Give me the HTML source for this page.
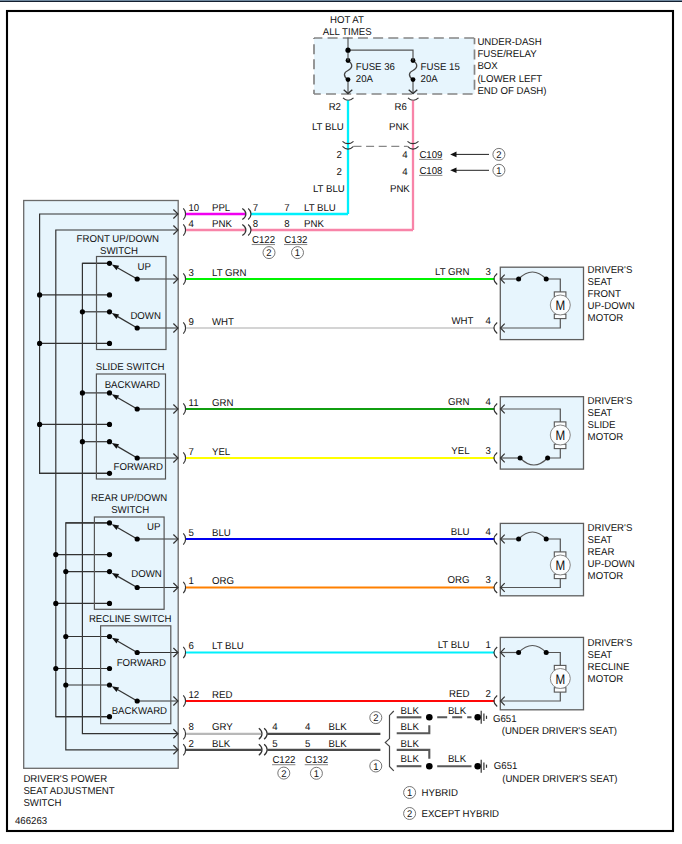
<!DOCTYPE html>
<html><head><meta charset="utf-8"><style>
html,body{margin:0;padding:0;background:#fff;width:682px;height:844px;overflow:hidden}
svg{display:block}
text{font-family:"Liberation Sans",sans-serif;text-rendering:geometricPrecision}
</style></head><body>
<svg width="682" height="844" viewBox="0 0 682 844">
<rect x="0" y="0" width="682" height="1" fill="#6f889f"/>
<rect x="0" y="1" width="682" height="1" fill="#142030"/>
<rect x="7" y="11" width="666" height="820" fill="none" stroke="#000" stroke-width="2.1"/>
<rect x="314" y="38" width="160.5" height="56" fill="#e7f5fd"/>
<line x1="314" y1="38" x2="474.5" y2="38" stroke="#858585" stroke-width="1.7" stroke-dasharray="10 5.18" stroke-dashoffset="1.6"/>
<line x1="474.5" y1="38" x2="474.5" y2="94" stroke="#858585" stroke-width="1.7" stroke-dasharray="10 5.18" stroke-dashoffset="3.7"/>
<line x1="314" y1="94" x2="474.5" y2="94" stroke="#858585" stroke-width="1.7" stroke-dasharray="10 5.18" stroke-dashoffset="3.2"/>
<line x1="314" y1="38" x2="314" y2="94" stroke="#858585" stroke-width="1.7" stroke-dasharray="10 5.18" stroke-dashoffset="9"/>
<text x="347" y="22.7" text-anchor="middle" font-size="10.0" fill="#111" transform="matrix(0.965,0,0,1,12.145,0)" >HOT AT</text>
<text x="347.2" y="34.7" text-anchor="middle" font-size="10.0" fill="#111" transform="matrix(0.965,0,0,1,12.152,0)" >ALL TIMES</text>
<text x="477.4" y="44.7" text-anchor="start" font-size="10.0" fill="#111" transform="matrix(0.965,0,0,1,16.709,0)" >UNDER-DASH</text>
<text x="477.4" y="57.050000000000004" text-anchor="start" font-size="10.0" fill="#111" transform="matrix(0.965,0,0,1,16.709,0)" >FUSE/RELAY</text>
<text x="477.4" y="69.4" text-anchor="start" font-size="10.0" fill="#111" transform="matrix(0.965,0,0,1,16.709,0)" >BOX</text>
<text x="477.4" y="81.75" text-anchor="start" font-size="10.0" fill="#111" transform="matrix(0.965,0,0,1,16.709,0)" >(LOWER LEFT</text>
<text x="477.4" y="94.1" text-anchor="start" font-size="10.0" fill="#111" transform="matrix(0.965,0,0,1,16.709,0)" >END OF DASH)</text>
<path d="M348,60.5 C353.5,64 352.5,68.5 348,70.5 C343.5,72.5 343,76 348,79.8" stroke="#444" stroke-width="1.3" fill="none" />
<line x1="348" y1="79.6" x2="348" y2="93.4" stroke="#555" stroke-width="1.2" />
<polyline points="343.7,89.8 348,93.6 352.3,89.8" stroke="#333" stroke-width="1.3" fill="none" />
<circle cx="348" cy="60.5" r="2.4" fill="#000"/>
<circle cx="348" cy="79.6" r="2.4" fill="#000"/>
<path d="M343,97.9 Q348,103 353.5,97.9" stroke="#333" stroke-width="1.1" fill="none" />
<path d="M413,60.5 C418.5,64 417.5,68.5 413,70.5 C408.5,72.5 408,76 413,79.8" stroke="#444" stroke-width="1.3" fill="none" />
<line x1="413" y1="79.6" x2="413" y2="93.4" stroke="#555" stroke-width="1.2" />
<polyline points="408.7,89.8 413,93.6 417.3,89.8" stroke="#333" stroke-width="1.3" fill="none" />
<circle cx="413" cy="60.5" r="2.4" fill="#000"/>
<circle cx="413" cy="79.6" r="2.4" fill="#000"/>
<path d="M408,97.9 Q413,103 418.5,97.9" stroke="#333" stroke-width="1.1" fill="none" />
<line x1="348" y1="37.5" x2="348" y2="60.5" stroke="#555" stroke-width="1.2" />
<polyline points="348,50.2 413,50.2 413,60.5" stroke="#555" stroke-width="1.2" fill="none" />
<circle cx="348" cy="50.2" r="2.6" fill="#000"/>
<text x="355.8" y="69.6" text-anchor="start" font-size="10.0" fill="#111" transform="matrix(0.965,0,0,1,12.453,0)" >FUSE 36</text>
<text x="355.8" y="82.2" text-anchor="start" font-size="10.0" fill="#111" transform="matrix(0.965,0,0,1,12.453,0)" >20A</text>
<text x="420.6" y="69.6" text-anchor="start" font-size="10.0" fill="#111" transform="matrix(0.965,0,0,1,14.721,0)" >FUSE 15</text>
<text x="420.6" y="82.2" text-anchor="start" font-size="10.0" fill="#111" transform="matrix(0.965,0,0,1,14.721,0)" >20A</text>
<line x1="348" y1="100.5" x2="348" y2="214" stroke="#00f0fc" stroke-width="2.3" />
<line x1="413" y1="100.5" x2="413" y2="230" stroke="#f884a8" stroke-width="2.3" />
<text x="341" y="110.2" text-anchor="end" font-size="10.0" fill="#111" transform="matrix(0.965,0,0,1,11.935,0)" >R2</text>
<text x="406.8" y="110.2" text-anchor="end" font-size="10.0" fill="#111" transform="matrix(0.965,0,0,1,14.238,0)" >R6</text>
<text x="343.8" y="130.1" text-anchor="end" font-size="10.0" fill="#111" transform="matrix(0.965,0,0,1,12.033,0)" >LT BLU</text>
<text x="408.9" y="130.1" text-anchor="end" font-size="10.0" fill="#111" transform="matrix(0.965,0,0,1,14.312,0)" >PNK</text>
<path d="M342.5,141.3 Q348,146 353.5,141.3" stroke="#333" stroke-width="1.1" fill="none" />
<path d="M342.5,146.3 Q348,152 353.5,146.3" stroke="#333" stroke-width="1.1" fill="none" />
<path d="M407.5,141.3 Q413,146 418.5,141.3" stroke="#333" stroke-width="1.1" fill="none" />
<path d="M407.5,146.3 Q413,152 418.5,146.3" stroke="#333" stroke-width="1.1" fill="none" />
<line x1="353.5" y1="146.4" x2="407.5" y2="146.4" stroke="#888" stroke-width="1.2" stroke-dasharray="8 4.6"/>
<text x="341.9" y="157.7" text-anchor="end" font-size="10.0" fill="#111" transform="matrix(0.965,0,0,1,11.967,0)" >2</text>
<text x="341.9" y="174.6" text-anchor="end" font-size="10.0" fill="#111" transform="matrix(0.965,0,0,1,11.967,0)" >2</text>
<text x="407.6" y="157.7" text-anchor="end" font-size="10.0" fill="#111" transform="matrix(0.965,0,0,1,14.266,0)" >4</text>
<text x="407.6" y="174.6" text-anchor="end" font-size="10.0" fill="#111" transform="matrix(0.965,0,0,1,14.266,0)" >4</text>
<text x="344.8" y="192.2" text-anchor="end" font-size="10.0" fill="#111" transform="matrix(0.965,0,0,1,12.068,0)" >LT BLU</text>
<text x="409.8" y="192.2" text-anchor="end" font-size="10.0" fill="#111" transform="matrix(0.965,0,0,1,14.343,0)" >PNK</text>
<text x="419.4" y="157.9" text-anchor="start" font-size="10.0" fill="#111" transform="matrix(0.965,0,0,1,14.679,0)" >C109</text>
<line x1="419.09999999999997" y1="159.4" x2="442.4" y2="159.4" stroke="#8c8c8c" stroke-width="1.1"/>
<text x="419.4" y="173.9" text-anchor="start" font-size="10.0" fill="#111" transform="matrix(0.965,0,0,1,14.679,0)" >C108</text>
<line x1="419.09999999999997" y1="175.4" x2="442.4" y2="175.4" stroke="#8c8c8c" stroke-width="1.1"/>
<line x1="455" y1="154.4" x2="489" y2="154.4" stroke="#222" stroke-width="1.0" />
<polygon points="450.2,154.4 456.5,151.6 456.5,157.20000000000002" fill="#111"/>
<circle cx="498.9" cy="154.4" r="6.0" fill="none" stroke="#666" stroke-width="0.9"/>
<text x="498.9" y="158.0" text-anchor="middle" font-size="9.8" fill="#111" transform="matrix(0.965,0,0,1,17.462,0)" >2</text>
<line x1="455" y1="170.3" x2="489" y2="170.3" stroke="#222" stroke-width="1.0" />
<polygon points="450.2,170.3 456.5,167.5 456.5,173.10000000000002" fill="#111"/>
<circle cx="498.9" cy="170.3" r="6.0" fill="none" stroke="#666" stroke-width="0.9"/>
<text x="498.9" y="173.9" text-anchor="middle" font-size="9.8" fill="#111" transform="matrix(0.965,0,0,1,17.462,0)" >1</text>
<rect x="23.7" y="200.5" width="154.5" height="567.8" stroke="#6a6a6a" stroke-width="1.3" fill="#e7f5fd" />
<polyline points="173.4,209.5 178,214.0 173.4,218.5" stroke="#333" stroke-width="1.2" fill="none" />
<path d="M183.3,208.4 C186.37,211.48 186.37,216.52 183.3,219.6" stroke="#333" stroke-width="1.2" fill="none" />
<text x="188.5" y="210.7" text-anchor="start" font-size="10.0" fill="#111" transform="matrix(0.965,0,0,1,6.598,0)" >10</text>
<text x="212" y="210.7" text-anchor="start" font-size="10.0" fill="#111" transform="matrix(0.965,0,0,1,7.420,0)" >PPL</text>
<polyline points="173.4,225.5 178,230.0 173.4,234.5" stroke="#333" stroke-width="1.2" fill="none" />
<path d="M183.3,224.4 C186.37,227.48 186.37,232.52 183.3,235.6" stroke="#333" stroke-width="1.2" fill="none" />
<text x="188.5" y="226.7" text-anchor="start" font-size="10.0" fill="#111" transform="matrix(0.965,0,0,1,6.598,0)" >4</text>
<text x="212" y="226.7" text-anchor="start" font-size="10.0" fill="#111" transform="matrix(0.965,0,0,1,7.420,0)" >PNK</text>
<polyline points="173.4,274.5 178,279.0 173.4,283.5" stroke="#333" stroke-width="1.2" fill="none" />
<path d="M183.3,273.4 C186.37,276.48 186.37,281.52 183.3,284.6" stroke="#333" stroke-width="1.2" fill="none" />
<text x="188.5" y="275.7" text-anchor="start" font-size="10.0" fill="#111" transform="matrix(0.965,0,0,1,6.598,0)" >3</text>
<text x="212" y="275.7" text-anchor="start" font-size="10.0" fill="#111" transform="matrix(0.965,0,0,1,7.420,0)" >LT GRN</text>
<polyline points="173.4,323.5 178,328.0 173.4,332.5" stroke="#333" stroke-width="1.2" fill="none" />
<path d="M183.3,322.4 C186.37,325.48 186.37,330.52 183.3,333.6" stroke="#333" stroke-width="1.2" fill="none" />
<text x="188.5" y="324.7" text-anchor="start" font-size="10.0" fill="#111" transform="matrix(0.965,0,0,1,6.598,0)" >9</text>
<text x="212" y="324.7" text-anchor="start" font-size="10.0" fill="#111" transform="matrix(0.965,0,0,1,7.420,0)" >WHT</text>
<polyline points="173.4,404.5 178,409.0 173.4,413.5" stroke="#333" stroke-width="1.2" fill="none" />
<path d="M183.3,403.4 C186.37,406.48 186.37,411.52 183.3,414.6" stroke="#333" stroke-width="1.2" fill="none" />
<text x="188.5" y="405.7" text-anchor="start" font-size="10.0" fill="#111" transform="matrix(0.965,0,0,1,6.598,0)" >11</text>
<text x="212" y="405.7" text-anchor="start" font-size="10.0" fill="#111" transform="matrix(0.965,0,0,1,7.420,0)" >GRN</text>
<polyline points="173.4,453.5 178,458.0 173.4,462.5" stroke="#333" stroke-width="1.2" fill="none" />
<path d="M183.3,452.4 C186.37,455.48 186.37,460.52 183.3,463.6" stroke="#333" stroke-width="1.2" fill="none" />
<text x="188.5" y="454.7" text-anchor="start" font-size="10.0" fill="#111" transform="matrix(0.965,0,0,1,6.598,0)" >7</text>
<text x="212" y="454.7" text-anchor="start" font-size="10.0" fill="#111" transform="matrix(0.965,0,0,1,7.420,0)" >YEL</text>
<polyline points="173.4,534.5 178,539.0 173.4,543.5" stroke="#333" stroke-width="1.2" fill="none" />
<path d="M183.3,533.4 C186.37,536.48 186.37,541.52 183.3,544.6" stroke="#333" stroke-width="1.2" fill="none" />
<text x="188.5" y="535.7" text-anchor="start" font-size="10.0" fill="#111" transform="matrix(0.965,0,0,1,6.598,0)" >5</text>
<text x="212" y="535.7" text-anchor="start" font-size="10.0" fill="#111" transform="matrix(0.965,0,0,1,7.420,0)" >BLU</text>
<polyline points="173.4,583.0 178,587.5 173.4,592.0" stroke="#333" stroke-width="1.2" fill="none" />
<path d="M183.3,581.9 C186.37,584.98 186.37,590.02 183.3,593.1" stroke="#333" stroke-width="1.2" fill="none" />
<text x="188.5" y="584.2" text-anchor="start" font-size="10.0" fill="#111" transform="matrix(0.965,0,0,1,6.598,0)" >1</text>
<text x="212" y="584.2" text-anchor="start" font-size="10.0" fill="#111" transform="matrix(0.965,0,0,1,7.420,0)" >ORG</text>
<polyline points="173.4,648.0 178,652.5 173.4,657.0" stroke="#333" stroke-width="1.2" fill="none" />
<path d="M183.3,646.9 C186.37,649.98 186.37,655.02 183.3,658.1" stroke="#333" stroke-width="1.2" fill="none" />
<text x="188.5" y="649.2" text-anchor="start" font-size="10.0" fill="#111" transform="matrix(0.965,0,0,1,6.598,0)" >6</text>
<text x="212" y="649.2" text-anchor="start" font-size="10.0" fill="#111" transform="matrix(0.965,0,0,1,7.420,0)" >LT BLU</text>
<polyline points="173.4,696.5 178,701.0 173.4,705.5" stroke="#333" stroke-width="1.2" fill="none" />
<path d="M183.3,695.4 C186.37,698.48 186.37,703.52 183.3,706.6" stroke="#333" stroke-width="1.2" fill="none" />
<text x="188.5" y="697.7" text-anchor="start" font-size="10.0" fill="#111" transform="matrix(0.965,0,0,1,6.598,0)" >12</text>
<text x="212" y="697.7" text-anchor="start" font-size="10.0" fill="#111" transform="matrix(0.965,0,0,1,7.420,0)" >RED</text>
<polyline points="173.4,729.2 178,733.7 173.4,738.2" stroke="#333" stroke-width="1.2" fill="none" />
<path d="M183.3,728.1 C186.37,731.18 186.37,736.22 183.3,739.3000000000001" stroke="#333" stroke-width="1.2" fill="none" />
<text x="188.5" y="730.4000000000001" text-anchor="start" font-size="10.0" fill="#111" transform="matrix(0.965,0,0,1,6.598,0)" >8</text>
<text x="212" y="730.4000000000001" text-anchor="start" font-size="10.0" fill="#111" transform="matrix(0.965,0,0,1,7.420,0)" >GRY</text>
<polyline points="173.4,745.3 178,749.8 173.4,754.3" stroke="#333" stroke-width="1.2" fill="none" />
<path d="M183.3,744.1999999999999 C186.37,747.28 186.37,752.32 183.3,755.4" stroke="#333" stroke-width="1.2" fill="none" />
<text x="188.5" y="746.5" text-anchor="start" font-size="10.0" fill="#111" transform="matrix(0.965,0,0,1,6.598,0)" >2</text>
<text x="212" y="746.5" text-anchor="start" font-size="10.0" fill="#111" transform="matrix(0.965,0,0,1,7.420,0)" >BLK</text>
<polyline points="178,214 39.6,214 39.6,473.3 109.5,473.3" stroke="#333" stroke-width="1.2" fill="none" />
<polyline points="178,230 55.8,230 55.8,716.7 109.5,716.7" stroke="#333" stroke-width="1.2" fill="none" />
<polyline points="109.5,263.3 82.4,263.3 82.4,733.7 178,733.7" stroke="#333" stroke-width="1.2" fill="none" />
<polyline points="109.5,522.9 65.8,522.9 65.8,749.8 178,749.8" stroke="#333" stroke-width="1.2" fill="none" />
<line x1="82.4" y1="263.3" x2="109.5" y2="263.3" stroke="#333" stroke-width="1.2" />
<circle cx="109.5" cy="263.3" r="2.6" fill="#000"/>
<line x1="39.6" y1="294.9" x2="109.5" y2="294.9" stroke="#333" stroke-width="1.2" />
<circle cx="39.6" cy="294.9" r="2.6" fill="#000"/>
<circle cx="109.5" cy="294.9" r="2.6" fill="#000"/>
<line x1="82.4" y1="311.8" x2="109.5" y2="311.8" stroke="#333" stroke-width="1.2" />
<circle cx="82.4" cy="311.8" r="2.6" fill="#000"/>
<circle cx="109.5" cy="311.8" r="2.6" fill="#000"/>
<line x1="39.6" y1="343.4" x2="109.5" y2="343.4" stroke="#333" stroke-width="1.2" />
<circle cx="39.6" cy="343.4" r="2.6" fill="#000"/>
<circle cx="109.5" cy="343.4" r="2.6" fill="#000"/>
<line x1="137.2" y1="279.0" x2="178" y2="279.0" stroke="#333" stroke-width="1.2" />
<line x1="137.2" y1="279.0" x2="117.85178186099851" y2="268.0336814158006" stroke="#333" stroke-width="1.3" />
<polygon points="111.76,264.58 119.13,265.77 116.57,270.30" fill="#111"/>
<circle cx="137.2" cy="279.0" r="2.6" fill="#000"/>
<line x1="137.2" y1="328.0" x2="178" y2="328.0" stroke="#333" stroke-width="1.2" />
<line x1="137.2" y1="328.0" x2="117.78684697641646" y2="316.64645924252517" stroke="#333" stroke-width="1.3" />
<polygon points="111.74,313.11 119.10,314.40 116.47,318.89" fill="#111"/>
<circle cx="137.2" cy="328.0" r="2.6" fill="#000"/>
<line x1="82.4" y1="392.9" x2="109.5" y2="392.9" stroke="#333" stroke-width="1.2" />
<circle cx="82.4" cy="392.9" r="2.6" fill="#000"/>
<circle cx="109.5" cy="392.9" r="2.6" fill="#000"/>
<line x1="39.6" y1="424.4" x2="109.5" y2="424.4" stroke="#333" stroke-width="1.2" />
<circle cx="39.6" cy="424.4" r="2.6" fill="#000"/>
<circle cx="109.5" cy="424.4" r="2.6" fill="#000"/>
<line x1="82.4" y1="441.7" x2="109.5" y2="441.7" stroke="#333" stroke-width="1.2" />
<circle cx="82.4" cy="441.7" r="2.6" fill="#000"/>
<circle cx="109.5" cy="441.7" r="2.6" fill="#000"/>
<line x1="39.6" y1="473.3" x2="109.5" y2="473.3" stroke="#333" stroke-width="1.2" />
<circle cx="109.5" cy="473.3" r="2.6" fill="#000"/>
<line x1="137.2" y1="409.0" x2="178" y2="409.0" stroke="#333" stroke-width="1.2" />
<line x1="137.2" y1="409.0" x2="117.79987449361973" y2="397.72411477788" stroke="#333" stroke-width="1.3" />
<polygon points="111.75,394.21 119.11,395.48 116.49,399.97" fill="#111"/>
<circle cx="137.2" cy="409.0" r="2.6" fill="#000"/>
<line x1="137.2" y1="458.0" x2="178" y2="458.0" stroke="#333" stroke-width="1.2" />
<line x1="137.2" y1="458.0" x2="117.77380051381465" y2="446.5686984972989" stroke="#333" stroke-width="1.3" />
<polygon points="111.74,443.02 119.09,444.33 116.46,448.81" fill="#111"/>
<circle cx="137.2" cy="458.0" r="2.6" fill="#000"/>
<line x1="65.8" y1="522.9" x2="109.5" y2="522.9" stroke="#333" stroke-width="1.2" />
<circle cx="109.5" cy="522.9" r="2.6" fill="#000"/>
<line x1="55.8" y1="554.6" x2="109.5" y2="554.6" stroke="#333" stroke-width="1.2" />
<circle cx="55.8" cy="554.6" r="2.6" fill="#000"/>
<circle cx="109.5" cy="554.6" r="2.6" fill="#000"/>
<line x1="65.8" y1="571.6" x2="109.5" y2="571.6" stroke="#333" stroke-width="1.2" />
<circle cx="65.8" cy="571.6" r="2.6" fill="#000"/>
<circle cx="109.5" cy="571.6" r="2.6" fill="#000"/>
<line x1="55.8" y1="603.4" x2="109.5" y2="603.4" stroke="#333" stroke-width="1.2" />
<circle cx="55.8" cy="603.4" r="2.6" fill="#000"/>
<circle cx="109.5" cy="603.4" r="2.6" fill="#000"/>
<line x1="137.2" y1="539.0" x2="178" y2="539.0" stroke="#333" stroke-width="1.2" />
<line x1="137.2" y1="539.0" x2="117.79987449361973" y2="527.72411477788" stroke="#333" stroke-width="1.3" />
<polygon points="111.75,524.21 119.11,525.48 116.49,529.97" fill="#111"/>
<circle cx="137.2" cy="539.0" r="2.6" fill="#000"/>
<line x1="137.2" y1="587.5" x2="178" y2="587.5" stroke="#333" stroke-width="1.2" />
<line x1="137.2" y1="587.5" x2="117.8258700533859" y2="576.3791095252287" stroke="#333" stroke-width="1.3" />
<polygon points="111.75,572.89 119.12,574.12 116.53,578.63" fill="#111"/>
<circle cx="137.2" cy="587.5" r="2.6" fill="#000"/>
<line x1="65.8" y1="636.5" x2="109.5" y2="636.5" stroke="#333" stroke-width="1.2" />
<circle cx="65.8" cy="636.5" r="2.6" fill="#000"/>
<circle cx="109.5" cy="636.5" r="2.6" fill="#000"/>
<line x1="55.8" y1="668.5" x2="109.5" y2="668.5" stroke="#333" stroke-width="1.2" />
<circle cx="55.8" cy="668.5" r="2.6" fill="#000"/>
<circle cx="109.5" cy="668.5" r="2.6" fill="#000"/>
<line x1="65.8" y1="685.0" x2="109.5" y2="685.0" stroke="#333" stroke-width="1.2" />
<circle cx="65.8" cy="685.0" r="2.6" fill="#000"/>
<circle cx="109.5" cy="685.0" r="2.6" fill="#000"/>
<line x1="55.8" y1="716.7" x2="109.5" y2="716.7" stroke="#333" stroke-width="1.2" />
<circle cx="109.5" cy="716.7" r="2.6" fill="#000"/>
<line x1="137.2" y1="652.5" x2="178" y2="652.5" stroke="#333" stroke-width="1.2" />
<line x1="137.2" y1="652.5" x2="117.81288240719779" y2="641.3016649283453" stroke="#333" stroke-width="1.3" />
<polygon points="111.75,637.80 119.11,639.05 116.51,643.55" fill="#111"/>
<circle cx="137.2" cy="652.5" r="2.6" fill="#000"/>
<line x1="137.2" y1="701.0" x2="178" y2="701.0" stroke="#333" stroke-width="1.2" />
<line x1="137.2" y1="701.0" x2="117.81288240719779" y2="689.8016649283453" stroke="#333" stroke-width="1.3" />
<polygon points="111.75,686.30 119.11,687.55 116.51,692.05" fill="#111"/>
<circle cx="137.2" cy="701.0" r="2.6" fill="#000"/>
<rect x="96.5" y="256.5" width="69.5" height="93" stroke="#555" stroke-width="1.2" fill="none" />
<rect x="96.4" y="374" width="69.1" height="105" stroke="#555" stroke-width="1.2" fill="none" />
<rect x="94.4" y="517" width="69.7" height="92.3" stroke="#555" stroke-width="1.2" fill="none" />
<rect x="100.6" y="625.8" width="70.2" height="97.9" stroke="#555" stroke-width="1.2" fill="none" />
<text x="76.6" y="241.9" text-anchor="start" font-size="10.0" fill="#111" transform="matrix(0.965,0,0,1,2.681,0)" >FRONT UP/DOWN</text>
<text x="100" y="253.7" text-anchor="start" font-size="10.0" fill="#111" transform="matrix(0.965,0,0,1,3.500,0)" >SWITCH</text>
<text x="137.5" y="269.8" text-anchor="start" font-size="10.0" fill="#111" transform="matrix(0.965,0,0,1,4.813,0)" >UP</text>
<text x="130.4" y="318.9" text-anchor="start" font-size="10.0" fill="#111" transform="matrix(0.965,0,0,1,4.564,0)" >DOWN</text>
<text x="95.8" y="369.8" text-anchor="start" font-size="10.0" fill="#111" transform="matrix(0.965,0,0,1,3.353,0)" >SLIDE SWITCH</text>
<text x="104.7" y="387.9" text-anchor="start" font-size="10.0" fill="#111" transform="matrix(0.965,0,0,1,3.665,0)" >BACKWARD</text>
<text x="113.6" y="470.1" text-anchor="start" font-size="10.0" fill="#111" transform="matrix(0.965,0,0,1,3.976,0)" >FORWARD</text>
<text x="91.1" y="500.8" text-anchor="start" font-size="10.0" fill="#111" transform="matrix(0.965,0,0,1,3.189,0)" >REAR UP/DOWN</text>
<text x="111.2" y="512.8" text-anchor="start" font-size="10.0" fill="#111" transform="matrix(0.965,0,0,1,3.892,0)" >SWITCH</text>
<text x="147" y="529.5" text-anchor="start" font-size="10.0" fill="#111" transform="matrix(0.965,0,0,1,5.145,0)" >UP</text>
<text x="131.2" y="577.4" text-anchor="start" font-size="10.0" fill="#111" transform="matrix(0.965,0,0,1,4.592,0)" >DOWN</text>
<text x="88.9" y="621.7" text-anchor="start" font-size="10.0" fill="#111" transform="matrix(0.965,0,0,1,3.112,0)" >RECLINE SWITCH</text>
<text x="116.7" y="666.2" text-anchor="start" font-size="10.0" fill="#111" transform="matrix(0.965,0,0,1,4.085,0)" >FORWARD</text>
<text x="111.7" y="713.6" text-anchor="start" font-size="10.0" fill="#111" transform="matrix(0.965,0,0,1,3.910,0)" >BACKWARD</text>
<text x="23.4" y="781.9" text-anchor="start" font-size="10.0" fill="#111" transform="matrix(0.965,0,0,1,0.819,0)" >DRIVER&#39;S POWER</text>
<text x="23.4" y="793.9" text-anchor="start" font-size="10.0" fill="#111" transform="matrix(0.965,0,0,1,0.819,0)" >SEAT ADJUSTMENT</text>
<text x="23.4" y="805.8" text-anchor="start" font-size="10.0" fill="#111" transform="matrix(0.965,0,0,1,0.819,0)" >SWITCH</text>
<text x="15" y="823.7" text-anchor="start" font-size="10.0" fill="#111" transform="matrix(0.965,0,0,1,0.525,0)" >466263</text>
<line x1="186" y1="214" x2="245.8" y2="214" stroke="#f000f0" stroke-width="2.4" />
<line x1="186" y1="230" x2="245.8" y2="230" stroke="#f884a8" stroke-width="2.4" />
<polyline points="250.8,214 348,214" stroke="#00f0fc" stroke-width="2.4" fill="none" />
<polyline points="250.8,230 413,230" stroke="#f884a8" stroke-width="2.4" fill="none" />
<path d="M242.3,208.5 C247.10,211.53 247.10,216.47 242.3,219.5" stroke="#333" stroke-width="1.2" fill="none" />
<path d="M248.2,208.5 C251.93,211.53 251.93,216.47 248.2,219.5" stroke="#333" stroke-width="1.2" fill="none" />
<path d="M242.3,224.5 C247.10,227.53 247.10,232.47 242.3,235.5" stroke="#333" stroke-width="1.2" fill="none" />
<path d="M248.2,224.5 C251.93,227.53 251.93,232.47 248.2,235.5" stroke="#333" stroke-width="1.2" fill="none" />
<text x="252.7" y="210.7" text-anchor="start" font-size="10.0" fill="#111" transform="matrix(0.965,0,0,1,8.845,0)" >7</text>
<text x="284.3" y="210.7" text-anchor="start" font-size="10.0" fill="#111" transform="matrix(0.965,0,0,1,9.951,0)" >7</text>
<text x="304" y="210.7" text-anchor="start" font-size="10.0" fill="#111" transform="matrix(0.965,0,0,1,10.640,0)" >LT BLU</text>
<text x="252.7" y="226.7" text-anchor="start" font-size="10.0" fill="#111" transform="matrix(0.965,0,0,1,8.845,0)" >8</text>
<text x="284.3" y="226.7" text-anchor="start" font-size="10.0" fill="#111" transform="matrix(0.965,0,0,1,9.951,0)" >8</text>
<text x="304" y="226.7" text-anchor="start" font-size="10.0" fill="#111" transform="matrix(0.965,0,0,1,10.640,0)" >PNK</text>
<text x="252" y="243.0" text-anchor="start" font-size="10.0" fill="#111" transform="matrix(0.965,0,0,1,8.820,0)" >C122</text>
<line x1="251.7" y1="244.5" x2="275" y2="244.5" stroke="#8c8c8c" stroke-width="1.1"/>
<text x="284.3" y="243.0" text-anchor="start" font-size="10.0" fill="#111" transform="matrix(0.965,0,0,1,9.951,0)" >C132</text>
<line x1="284.0" y1="244.5" x2="307.3" y2="244.5" stroke="#8c8c8c" stroke-width="1.1"/>
<circle cx="269" cy="252.6" r="6.0" fill="none" stroke="#666" stroke-width="0.9"/>
<text x="269" y="256.2" text-anchor="middle" font-size="9.8" fill="#111" transform="matrix(0.965,0,0,1,9.415,0)" >2</text>
<circle cx="297.5" cy="252.6" r="6.0" fill="none" stroke="#666" stroke-width="0.9"/>
<text x="297.5" y="256.2" text-anchor="middle" font-size="9.8" fill="#111" transform="matrix(0.965,0,0,1,10.413,0)" >1</text>
<line x1="186" y1="279.0" x2="494.6" y2="279.0" stroke="#00f400" stroke-width="2.1" />
<path d="M497.2,273.5 Q490.59999999999997,279.0 497.2,284.5" stroke="#333" stroke-width="1.2" fill="none" />
<line x1="186" y1="328.0" x2="494.6" y2="328.0" stroke="#d4d4d4" stroke-width="2.1" />
<path d="M497.2,322.5 Q490.59999999999997,328.0 497.2,333.5" stroke="#333" stroke-width="1.2" fill="none" />
<line x1="186" y1="409.0" x2="494.6" y2="409.0" stroke="#109e10" stroke-width="2.1" />
<path d="M497.2,403.5 Q490.59999999999997,409.0 497.2,414.5" stroke="#333" stroke-width="1.2" fill="none" />
<line x1="186" y1="458.0" x2="494.6" y2="458.0" stroke="#ffff00" stroke-width="2.1" />
<path d="M497.2,452.5 Q490.59999999999997,458.0 497.2,463.5" stroke="#333" stroke-width="1.2" fill="none" />
<line x1="186" y1="539.0" x2="494.6" y2="539.0" stroke="#0000f0" stroke-width="2.1" />
<path d="M497.2,533.5 Q490.59999999999997,539.0 497.2,544.5" stroke="#333" stroke-width="1.2" fill="none" />
<line x1="186" y1="587.5" x2="494.6" y2="587.5" stroke="#ff8000" stroke-width="2.1" />
<path d="M497.2,582.0 Q490.59999999999997,587.5 497.2,593.0" stroke="#333" stroke-width="1.2" fill="none" />
<line x1="186" y1="652.5" x2="494.6" y2="652.5" stroke="#00f0fc" stroke-width="2.1" />
<path d="M497.2,647.0 Q490.59999999999997,652.5 497.2,658.0" stroke="#333" stroke-width="1.2" fill="none" />
<line x1="186" y1="701.0" x2="494.6" y2="701.0" stroke="#ff0808" stroke-width="2.1" />
<path d="M497.2,695.5 Q490.59999999999997,701.0 497.2,706.5" stroke="#333" stroke-width="1.2" fill="none" />
<text x="469.5" y="274.8" text-anchor="end" font-size="10.0" fill="#111" transform="matrix(0.965,0,0,1,16.433,0)" >LT GRN</text>
<text x="490.8" y="274.8" text-anchor="end" font-size="10.0" fill="#111" transform="matrix(0.965,0,0,1,17.178,0)" >3</text>
<text x="473.4" y="323.8" text-anchor="end" font-size="10.0" fill="#111" transform="matrix(0.965,0,0,1,16.569,0)" >WHT</text>
<text x="490.8" y="323.8" text-anchor="end" font-size="10.0" fill="#111" transform="matrix(0.965,0,0,1,17.178,0)" >4</text>
<text x="469.5" y="404.8" text-anchor="end" font-size="10.0" fill="#111" transform="matrix(0.965,0,0,1,16.433,0)" >GRN</text>
<text x="490.8" y="404.8" text-anchor="end" font-size="10.0" fill="#111" transform="matrix(0.965,0,0,1,17.178,0)" >4</text>
<text x="469.5" y="453.8" text-anchor="end" font-size="10.0" fill="#111" transform="matrix(0.965,0,0,1,16.433,0)" >YEL</text>
<text x="490.8" y="453.8" text-anchor="end" font-size="10.0" fill="#111" transform="matrix(0.965,0,0,1,17.178,0)" >3</text>
<text x="469.5" y="534.8" text-anchor="end" font-size="10.0" fill="#111" transform="matrix(0.965,0,0,1,16.433,0)" >BLU</text>
<text x="490.8" y="534.8" text-anchor="end" font-size="10.0" fill="#111" transform="matrix(0.965,0,0,1,17.178,0)" >4</text>
<text x="469.5" y="583.3" text-anchor="end" font-size="10.0" fill="#111" transform="matrix(0.965,0,0,1,16.433,0)" >ORG</text>
<text x="490.8" y="583.3" text-anchor="end" font-size="10.0" fill="#111" transform="matrix(0.965,0,0,1,17.178,0)" >3</text>
<text x="469.5" y="648.3" text-anchor="end" font-size="10.0" fill="#111" transform="matrix(0.965,0,0,1,16.433,0)" >LT BLU</text>
<text x="490.8" y="648.3" text-anchor="end" font-size="10.0" fill="#111" transform="matrix(0.965,0,0,1,17.178,0)" >1</text>
<text x="469.5" y="696.8" text-anchor="end" font-size="10.0" fill="#111" transform="matrix(0.965,0,0,1,16.433,0)" >RED</text>
<text x="490.8" y="696.8" text-anchor="end" font-size="10.0" fill="#111" transform="matrix(0.965,0,0,1,17.178,0)" >2</text>
<rect x="500.3" y="267.2" width="83.2" height="72.4" stroke="#5e5e5e" stroke-width="1.3" fill="#e7f5fd" />
<line x1="500.5" y1="279.0" x2="518.6" y2="279.0" stroke="#555" stroke-width="1.2" />
<path d="M518.6,279.0 Q532.4,265.0 546.2,279.0" stroke="#555" stroke-width="1.1" fill="none" />
<polyline points="546.2,279.0 560.3,279.0 560.3,292.0" stroke="#555" stroke-width="1.2" fill="none" />
<polyline points="560.3,318.5 560.3,328.0 500.5,328.0" stroke="#555" stroke-width="1.2" fill="none" />
<circle cx="518.6" cy="279.0" r="2.5" fill="#000"/>
<circle cx="546.2" cy="279.0" r="2.5" fill="#000"/>
<rect x="554.3" y="291.9" width="11.6" height="4.6" stroke="#555" stroke-width="1.1" fill="#fbfdfe" />
<rect x="554.3" y="314.2" width="11.6" height="4.4" stroke="#555" stroke-width="1.1" fill="#fbfdfe" />
<circle cx="560.3" cy="305.0" r="10" fill="#fbfdfe" stroke="#888" stroke-width="1"/>
<text x="560.3" y="310.0" text-anchor="middle" font-size="13.7" fill="#111" transform="translate(560.3 0) scale(0.85 1) translate(-560.3 0)">M</text>
<polyline points="504.7,274.7 500.5,279.0 504.7,283.3" stroke="#333" stroke-width="1.2" fill="none" />
<polyline points="504.7,323.7 500.5,328.0 504.7,332.3" stroke="#333" stroke-width="1.2" fill="none" />
<text x="587.6" y="272.5" text-anchor="start" font-size="10.0" fill="#111" transform="matrix(0.965,0,0,1,20.566,0)" >DRIVER&#39;S</text>
<text x="587.6" y="284.65" text-anchor="start" font-size="10.0" fill="#111" transform="matrix(0.965,0,0,1,20.566,0)" >SEAT</text>
<text x="587.6" y="296.8" text-anchor="start" font-size="10.0" fill="#111" transform="matrix(0.965,0,0,1,20.566,0)" >FRONT</text>
<text x="587.6" y="308.95" text-anchor="start" font-size="10.0" fill="#111" transform="matrix(0.965,0,0,1,20.566,0)" >UP-DOWN</text>
<text x="587.6" y="321.1" text-anchor="start" font-size="10.0" fill="#111" transform="matrix(0.965,0,0,1,20.566,0)" >MOTOR</text>
<rect x="500.3" y="396.7" width="83.2" height="72.4" stroke="#5e5e5e" stroke-width="1.3" fill="#e7f5fd" />
<polyline points="500.5,409.0 560.3,409.0 560.3,422.0" stroke="#555" stroke-width="1.2" fill="none" />
<polyline points="560.3,448.5 560.3,458.0 547.6,458.0" stroke="#555" stroke-width="1.2" fill="none" />
<path d="M520.1,458.0 Q533.9,472.0 547.6,458.0" stroke="#555" stroke-width="1.1" fill="none" />
<line x1="520.1" y1="458.0" x2="500.5" y2="458.0" stroke="#555" stroke-width="1.2" />
<circle cx="520.1" cy="458.0" r="2.5" fill="#000"/>
<circle cx="547.6" cy="458.0" r="2.5" fill="#000"/>
<rect x="554.3" y="421.9" width="11.6" height="4.6" stroke="#555" stroke-width="1.1" fill="#fbfdfe" />
<rect x="554.3" y="444.2" width="11.6" height="4.4" stroke="#555" stroke-width="1.1" fill="#fbfdfe" />
<circle cx="560.3" cy="435.0" r="10" fill="#fbfdfe" stroke="#888" stroke-width="1"/>
<text x="560.3" y="440.0" text-anchor="middle" font-size="13.7" fill="#111" transform="translate(560.3 0) scale(0.85 1) translate(-560.3 0)">M</text>
<polyline points="504.7,404.7 500.5,409.0 504.7,413.3" stroke="#333" stroke-width="1.2" fill="none" />
<polyline points="504.7,453.7 500.5,458.0 504.7,462.3" stroke="#333" stroke-width="1.2" fill="none" />
<text x="587.6" y="403.5" text-anchor="start" font-size="10.0" fill="#111" transform="matrix(0.965,0,0,1,20.566,0)" >DRIVER&#39;S</text>
<text x="587.6" y="415.65" text-anchor="start" font-size="10.0" fill="#111" transform="matrix(0.965,0,0,1,20.566,0)" >SEAT</text>
<text x="587.6" y="427.8" text-anchor="start" font-size="10.0" fill="#111" transform="matrix(0.965,0,0,1,20.566,0)" >SLIDE</text>
<text x="587.6" y="439.95" text-anchor="start" font-size="10.0" fill="#111" transform="matrix(0.965,0,0,1,20.566,0)" >MOTOR</text>
<rect x="500.3" y="523.4" width="83.2" height="72.4" stroke="#5e5e5e" stroke-width="1.3" fill="#e7f5fd" />
<line x1="500.5" y1="539.0" x2="518.6" y2="539.0" stroke="#555" stroke-width="1.2" />
<path d="M518.6,539.0 Q532.4,525.0 546.2,539.0" stroke="#555" stroke-width="1.1" fill="none" />
<polyline points="546.2,539.0 560.3,539.0 560.3,552.0" stroke="#555" stroke-width="1.2" fill="none" />
<polyline points="560.3,578.5 560.3,587.5 500.5,587.5" stroke="#555" stroke-width="1.2" fill="none" />
<circle cx="518.6" cy="539.0" r="2.5" fill="#000"/>
<circle cx="546.2" cy="539.0" r="2.5" fill="#000"/>
<rect x="554.3" y="551.9" width="11.6" height="4.6" stroke="#555" stroke-width="1.1" fill="#fbfdfe" />
<rect x="554.3" y="574.2" width="11.6" height="4.4" stroke="#555" stroke-width="1.1" fill="#fbfdfe" />
<circle cx="560.3" cy="565.0" r="10" fill="#fbfdfe" stroke="#888" stroke-width="1"/>
<text x="560.3" y="570.0" text-anchor="middle" font-size="13.7" fill="#111" transform="translate(560.3 0) scale(0.85 1) translate(-560.3 0)">M</text>
<polyline points="504.7,534.7 500.5,539.0 504.7,543.3" stroke="#333" stroke-width="1.2" fill="none" />
<polyline points="504.7,583.2 500.5,587.5 504.7,591.8" stroke="#333" stroke-width="1.2" fill="none" />
<text x="587.6" y="530.6" text-anchor="start" font-size="10.0" fill="#111" transform="matrix(0.965,0,0,1,20.566,0)" >DRIVER&#39;S</text>
<text x="587.6" y="542.75" text-anchor="start" font-size="10.0" fill="#111" transform="matrix(0.965,0,0,1,20.566,0)" >SEAT</text>
<text x="587.6" y="554.9" text-anchor="start" font-size="10.0" fill="#111" transform="matrix(0.965,0,0,1,20.566,0)" >REAR</text>
<text x="587.6" y="567.0500000000001" text-anchor="start" font-size="10.0" fill="#111" transform="matrix(0.965,0,0,1,20.566,0)" >UP-DOWN</text>
<text x="587.6" y="579.2" text-anchor="start" font-size="10.0" fill="#111" transform="matrix(0.965,0,0,1,20.566,0)" >MOTOR</text>
<rect x="500.3" y="637.4" width="83.2" height="72.4" stroke="#5e5e5e" stroke-width="1.3" fill="#e7f5fd" />
<line x1="500.5" y1="652.5" x2="518.6" y2="652.5" stroke="#555" stroke-width="1.2" />
<path d="M518.6,652.5 Q532.4,638.5 546.2,652.5" stroke="#555" stroke-width="1.1" fill="none" />
<polyline points="546.2,652.5 560.3,652.5 560.3,665.5" stroke="#555" stroke-width="1.2" fill="none" />
<polyline points="560.3,692.0 560.3,701.0 500.5,701.0" stroke="#555" stroke-width="1.2" fill="none" />
<circle cx="518.6" cy="652.5" r="2.5" fill="#000"/>
<circle cx="546.2" cy="652.5" r="2.5" fill="#000"/>
<rect x="554.3" y="665.4" width="11.6" height="4.6" stroke="#555" stroke-width="1.1" fill="#fbfdfe" />
<rect x="554.3" y="687.7" width="11.6" height="4.4" stroke="#555" stroke-width="1.1" fill="#fbfdfe" />
<circle cx="560.3" cy="678.5" r="10" fill="#fbfdfe" stroke="#888" stroke-width="1"/>
<text x="560.3" y="683.5" text-anchor="middle" font-size="13.7" fill="#111" transform="translate(560.3 0) scale(0.85 1) translate(-560.3 0)">M</text>
<polyline points="504.7,648.2 500.5,652.5 504.7,656.8" stroke="#333" stroke-width="1.2" fill="none" />
<polyline points="504.7,696.7 500.5,701.0 504.7,705.3" stroke="#333" stroke-width="1.2" fill="none" />
<text x="587.6" y="645.6" text-anchor="start" font-size="10.0" fill="#111" transform="matrix(0.965,0,0,1,20.566,0)" >DRIVER&#39;S</text>
<text x="587.6" y="657.75" text-anchor="start" font-size="10.0" fill="#111" transform="matrix(0.965,0,0,1,20.566,0)" >SEAT</text>
<text x="587.6" y="669.9" text-anchor="start" font-size="10.0" fill="#111" transform="matrix(0.965,0,0,1,20.566,0)" >RECLINE</text>
<text x="587.6" y="682.0500000000001" text-anchor="start" font-size="10.0" fill="#111" transform="matrix(0.965,0,0,1,20.566,0)" >MOTOR</text>
<line x1="186" y1="733.8" x2="261.7" y2="733.8" stroke="#b8b8b8" stroke-width="2.2" />
<line x1="186" y1="749.9" x2="261.7" y2="749.9" stroke="#484848" stroke-width="2.3" />
<line x1="267.3" y1="733.8" x2="380.4" y2="733.8" stroke="#4a4a4a" stroke-width="2.3" />
<line x1="267.3" y1="749.9" x2="380.4" y2="749.9" stroke="#4a4a4a" stroke-width="2.3" />
<path d="M258.8,728.2 C263.07,731.23 263.07,736.18 258.8,739.2" stroke="#333" stroke-width="1.2" fill="none" />
<path d="M264.1,728.2 C268.10,731.23 268.10,736.18 264.1,739.2" stroke="#333" stroke-width="1.2" fill="none" />
<path d="M258.8,744.3 C263.07,747.32 263.07,752.27 258.8,755.3" stroke="#333" stroke-width="1.2" fill="none" />
<path d="M264.1,744.3 C268.10,747.32 268.10,752.27 264.1,755.3" stroke="#333" stroke-width="1.2" fill="none" />
<text x="272.3" y="729.7" text-anchor="start" font-size="10.0" fill="#111" transform="matrix(0.965,0,0,1,9.531,0)" >4</text>
<text x="305" y="729.7" text-anchor="start" font-size="10.0" fill="#111" transform="matrix(0.965,0,0,1,10.675,0)" >4</text>
<text x="328.5" y="729.7" text-anchor="start" font-size="10.0" fill="#111" transform="matrix(0.965,0,0,1,11.498,0)" >BLK</text>
<text x="272.3" y="746.8" text-anchor="start" font-size="10.0" fill="#111" transform="matrix(0.965,0,0,1,9.531,0)" >5</text>
<text x="305" y="746.8" text-anchor="start" font-size="10.0" fill="#111" transform="matrix(0.965,0,0,1,10.675,0)" >5</text>
<text x="328.5" y="746.8" text-anchor="start" font-size="10.0" fill="#111" transform="matrix(0.965,0,0,1,11.498,0)" >BLK</text>
<text x="272.4" y="763.2" text-anchor="start" font-size="10.0" fill="#111" transform="matrix(0.965,0,0,1,9.534,0)" >C122</text>
<line x1="272.09999999999997" y1="764.7" x2="295.4" y2="764.7" stroke="#8c8c8c" stroke-width="1.1"/>
<text x="305" y="763.2" text-anchor="start" font-size="10.0" fill="#111" transform="matrix(0.965,0,0,1,10.675,0)" >C132</text>
<line x1="304.7" y1="764.7" x2="328" y2="764.7" stroke="#8c8c8c" stroke-width="1.1"/>
<circle cx="283.8" cy="773.1" r="6.0" fill="none" stroke="#666" stroke-width="0.9"/>
<text x="283.8" y="776.7" text-anchor="middle" font-size="9.8" fill="#111" transform="matrix(0.965,0,0,1,9.933,0)" >2</text>
<circle cx="316.4" cy="773.3" r="6.0" fill="none" stroke="#666" stroke-width="0.9"/>
<text x="316.4" y="776.9" text-anchor="middle" font-size="9.8" fill="#111" transform="matrix(0.965,0,0,1,11.074,0)" >1</text>
<polyline points="393.8,711.0 389.5,715.4 389.5,738.6 385.3,742.6 389.5,746.3 389.5,766.4 393.8,770.8" stroke="#444" stroke-width="1.2" fill="none" />
<circle cx="375.8" cy="717.6" r="6.0" fill="none" stroke="#666" stroke-width="0.9"/>
<text x="375.8" y="721.2" text-anchor="middle" font-size="9.8" fill="#111" transform="matrix(0.965,0,0,1,13.153,0)" >2</text>
<circle cx="375.8" cy="766" r="6.0" fill="none" stroke="#666" stroke-width="0.9"/>
<text x="375.8" y="769.6" text-anchor="middle" font-size="9.8" fill="#111" transform="matrix(0.965,0,0,1,13.153,0)" >1</text>
<line x1="396.7" y1="717.3" x2="421.4" y2="717.3" stroke="#585858" stroke-width="2.1" />
<polyline points="396.7,733.2 429.3,733.2 429.3,725.2" stroke="#585858" stroke-width="2.1" fill="none" />
<polyline points="396.7,749.9 429.3,749.9 429.3,758.7" stroke="#585858" stroke-width="2.1" fill="none" />
<line x1="396.7" y1="766.2" x2="421.4" y2="766.2" stroke="#585858" stroke-width="2.1" />
<circle cx="429.3" cy="717.3" r="3.3" fill="#000"/>
<circle cx="429.3" cy="766.2" r="3.3" fill="#000"/>
<line x1="437.2" y1="717.3" x2="471.5" y2="717.3" stroke="#585858" stroke-width="2.1" stroke-dasharray="10 5"/>
<line x1="437.2" y1="766.2" x2="471.5" y2="766.2" stroke="#585858" stroke-width="2.1" />
<circle cx="477.7" cy="717.3" r="3.3" fill="#000"/>
<line x1="481.2" y1="710.8" x2="481.2" y2="723.8" stroke="#333" stroke-width="1.2" />
<line x1="483.9" y1="713.5" x2="483.9" y2="721.0999999999999" stroke="#333" stroke-width="1.2" />
<line x1="486.5" y1="715.6999999999999" x2="486.5" y2="718.9" stroke="#333" stroke-width="1.2" />
<circle cx="477.7" cy="766.2" r="3.3" fill="#000"/>
<line x1="481.2" y1="759.7" x2="481.2" y2="772.7" stroke="#333" stroke-width="1.2" />
<line x1="483.9" y1="762.4000000000001" x2="483.9" y2="770.0" stroke="#333" stroke-width="1.2" />
<line x1="486.5" y1="764.6" x2="486.5" y2="767.8000000000001" stroke="#333" stroke-width="1.2" />
<text x="400.6" y="713.6" text-anchor="start" font-size="10.0" fill="#111" transform="matrix(0.965,0,0,1,14.021,0)" >BLK</text>
<text x="400.6" y="729.7" text-anchor="start" font-size="10.0" fill="#111" transform="matrix(0.965,0,0,1,14.021,0)" >BLK</text>
<text x="400.6" y="747.1" text-anchor="start" font-size="10.0" fill="#111" transform="matrix(0.965,0,0,1,14.021,0)" >BLK</text>
<text x="400.6" y="762.1" text-anchor="start" font-size="10.0" fill="#111" transform="matrix(0.965,0,0,1,14.021,0)" >BLK</text>
<text x="447.9" y="713.6" text-anchor="start" font-size="10.0" fill="#111" transform="matrix(0.965,0,0,1,15.677,0)" >BLK</text>
<text x="447.9" y="762.1" text-anchor="start" font-size="10.0" fill="#111" transform="matrix(0.965,0,0,1,15.677,0)" >BLK</text>
<text x="493" y="721.8" text-anchor="start" font-size="10.0" fill="#111" transform="matrix(0.965,0,0,1,17.255,0)" >G651</text>
<text x="501.7" y="734.2" text-anchor="start" font-size="10.0" fill="#111" transform="matrix(0.965,0,0,1,17.560,0)" >(UNDER DRIVER&#39;S SEAT)</text>
<text x="493.8" y="769.3" text-anchor="start" font-size="10.0" fill="#111" transform="matrix(0.965,0,0,1,17.283,0)" >G651</text>
<text x="502.2" y="781.7" text-anchor="start" font-size="10.0" fill="#111" transform="matrix(0.965,0,0,1,17.577,0)" >(UNDER DRIVER&#39;S SEAT)</text>
<circle cx="409.6" cy="792.5" r="6.0" fill="none" stroke="#666" stroke-width="0.9"/>
<text x="409.6" y="796.1" text-anchor="middle" font-size="9.8" fill="#111" transform="matrix(0.965,0,0,1,14.336,0)" >1</text>
<text x="421.5" y="795.8" text-anchor="start" font-size="10.0" fill="#111" transform="matrix(0.965,0,0,1,14.753,0)" >HYBRID</text>
<circle cx="409.6" cy="813.5" r="6.0" fill="none" stroke="#666" stroke-width="0.9"/>
<text x="409.6" y="817.1" text-anchor="middle" font-size="9.8" fill="#111" transform="matrix(0.965,0,0,1,14.336,0)" >2</text>
<text x="421.5" y="816.8" text-anchor="start" font-size="10.0" fill="#111" transform="matrix(0.965,0,0,1,14.753,0)" >EXCEPT HYBRID</text>
</svg>
</body></html>
